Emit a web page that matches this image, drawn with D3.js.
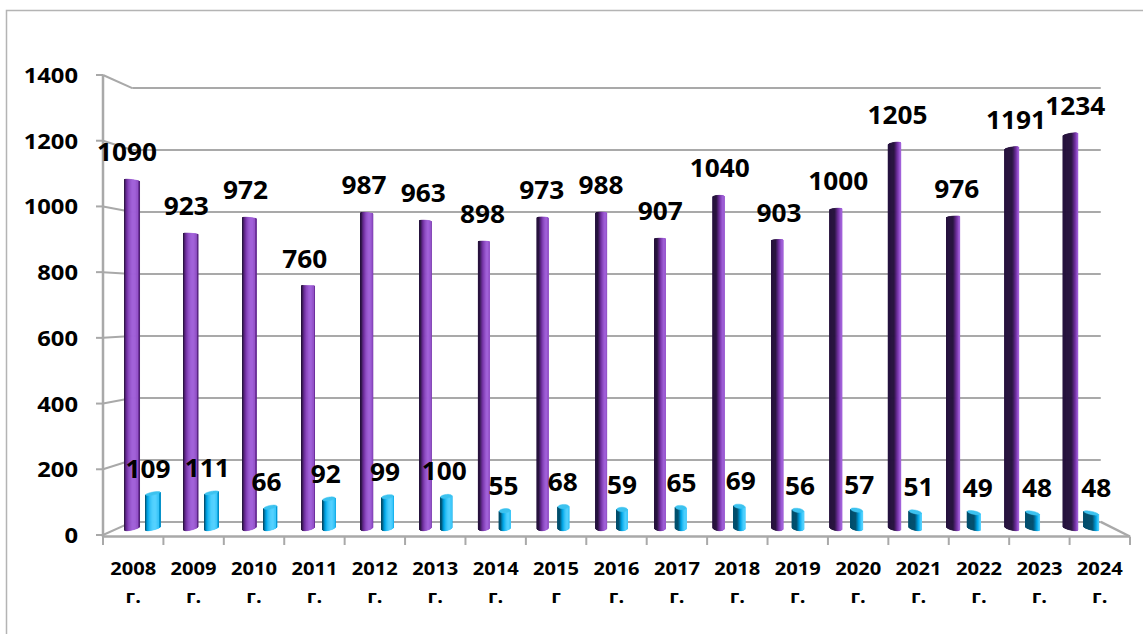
<!DOCTYPE html>
<html>
<head>
<meta charset="utf-8">
<script src="https://cdn.jsdelivr.net/npm/d3@7"></script>
<style>
  html, body { margin: 0; padding: 0; background: #ffffff; }
  svg { display: block; }
  text { font-family: "Open Sans", "Noto Sans", sans-serif; font-weight: 700; fill: #000; }
</style>
</head>
<body>
<script>
// Years on the category axis and the second line under each year
const years = ["2008", "2009", "2010", "2011", "2012", "2013", "2014", "2015", "2016",
               "2017", "2018", "2019", "2020", "2021", "2022", "2023", "2024"];
const yearSuffix = ["г.", "г.", "г.", "г.", "г.", "г.", "г.", "г", "г.",
                    "г.", "г.", "г.", "г.", "г.", "г.", "г.", "г."];

// Two series drawn as cylinders
const seriesPurple = [1090, 923, 972, 760, 987, 963, 898, 973, 988, 907, 1040, 903, 1000, 1205, 976, 1191, 1234];
const seriesBlue   = [109, 111, 66, 92, 99, 100, 55, 68, 59, 65, 69, 56, 57, 51, 49, 48, 48];

// Value axis ticks
const yTicks = [0, 200, 400, 600, 800, 1000, 1200, 1400];

const W = 1143, H = 634;
const svg = d3.select("body").append("svg").attr("width", W).attr("height", H);

// Outer chart frame
svg.append("rect")
  .attr("x", 6.5).attr("y", 10.5).attr("width", 1160).attr("height", 700)
  .attr("fill", "none").attr("stroke", "#b4b4b4").attr("stroke-width", 1.5);

// Front-plane scales
const x0 = d3.scaleBand().domain(years).range([103, 1130]).padding(0);
const bw = x0.bandwidth();
const x1 = d3.scaleBand().domain(["purple", "blue"]).range([bw * 0.063, bw * 0.772]);
const y = d3.scaleLinear().domain([0, 1400]).range([535, 75]);

// Simple perspective: camera centred on the plot, depth measured into the screen
const VX = 616.5, VY = 305, CAM = 500, DEPTH = 30.2;
function proj(X, Y, Z) {
  const s = CAM / (CAM + Z);
  return [VX + (X - VX) * s, VY + (Y - VY) * s];
}

const gridColor = "#a9a9a9";
const gWalls = svg.append("g");

// Back wall gridlines, left wall edges and left ticks
yTicks.forEach(v => {
  const yf = y(v);
  const [bxL, by] = proj(x0.range()[0], yf, DEPTH);
  const [bxR] = proj(x0.range()[1], yf, DEPTH);
  gWalls.append("line").attr("x1", bxL).attr("x2", bxR).attr("y1", by).attr("y2", by)
    .attr("stroke", gridColor).attr("stroke-width", 2);
  gWalls.append("line").attr("x1", 103).attr("y1", yf).attr("x2", bxL).attr("y2", by)
    .attr("stroke", gridColor).attr("stroke-width", 2);
  gWalls.append("line").attr("x1", 96).attr("y1", yf).attr("x2", 103).attr("y2", yf)
    .attr("stroke", gridColor).attr("stroke-width", 2);
  gWalls.append("text")
    .attr("transform", `translate(78,${yf + 8}) scale(1.08,1)`)
    .attr("text-anchor", "end")
    .style("font-size", "22px")
    .text(v);
});

// Front vertical axis line
gWalls.append("line").attr("x1", 103).attr("x2", 103).attr("y1", y(1400)).attr("y2", y(0) + 2)
  .attr("stroke", gridColor).attr("stroke-width", 2.5);

// Floor: right edge and front edge (category axis)
{
  const [rx, ry] = proj(x0.range()[1], y(0), DEPTH);
  gWalls.append("line").attr("x1", rx).attr("y1", ry).attr("x2", 1130).attr("y2", y(0) + 1.5)
    .attr("stroke", gridColor).attr("stroke-width", 2.5);
  gWalls.append("line").attr("x1", 103).attr("x2", 1130).attr("y1", y(0) + 1.5).attr("y2", y(0) + 1.5)
    .attr("stroke", gridColor).attr("stroke-width", 2.5);
  const tickXs = years.map(d => x0(d)).concat([x0.range()[1]]);
  tickXs.forEach(tx => {
    gWalls.append("line").attr("x1", tx).attr("x2", tx).attr("y1", y(0) + 1.5).attr("y2", y(0) + 10)
      .attr("stroke", gridColor).attr("stroke-width", 2);
  });
}

// Category labels
const gX = svg.append("g");
years.forEach((yr, i) => {
  const cx = x0(yr) + bw / 2;
  gX.append("text")
    .attr("transform", `translate(${cx},575) scale(1.15,1)`)
    .attr("text-anchor", "middle").style("font-size", "17.5px").text(yr);
  gX.append("text")
    .attr("transform", `translate(${cx},603) scale(1.15,1)`)
    .attr("text-anchor", "middle").style("font-size", "17.5px").text(yearSuffix[i]);
});

// Cylinder shading
const palettes = {
  purple: { dark: "#2a1540", base: "#7030a0", light: "#a262da", cap: "#8a48c0" },
  blue:   { dark: "#04506f", base: "#00a8ea", light: "#55d2ff", cap: "#3cc2ef" }
};
const L = (() => { const lx = 1, lz = -0.6, n = Math.hypot(lx, lz); return [lx / n, lz / n]; })();

function shade(p, t) {
  const k = 0.55;
  return t < k ? d3.interpolateRgb(p.dark, p.base)(t / k)
               : d3.interpolateRgb(p.base, p.light)((t - k) / (1 - k));
}

const R = 5.5, ZC = DEPTH / 2, N = 72;
const line = d3.line();
const gBars = svg.append("g");

function cylinder(X, v, pal) {
  const yb = y(0), yt = y(v);
  const g = gBars.append("g");
  for (let i = 0; i < N; i++) {
    const a0 = 2 * Math.PI * i / N, a1 = 2 * Math.PI * (i + 1) / N, am = (a0 + a1) / 2;
    const nx = Math.cos(am), nz = Math.sin(am);
    const px = X + R * nx, pz = ZC + R * nz;
    const vis = nx * (VX - px) + nz * (-CAM - pz);
    if (vis <= 0) continue;
    const t = Math.max(0, nx * L[0] + nz * L[1]);
    const c = shade(pal, t);
    const pts = [
      proj(X + R * Math.cos(a0), yb, ZC + R * Math.sin(a0)),
      proj(X + R * Math.cos(a1), yb, ZC + R * Math.sin(a1)),
      proj(X + R * Math.cos(a1), yt, ZC + R * Math.sin(a1)),
      proj(X + R * Math.cos(a0), yt, ZC + R * Math.sin(a0))
    ];
    g.append("path").attr("d", line(pts) + "Z").attr("fill", c).attr("stroke", c).attr("stroke-width", 0.7);
  }
  // Top face is only seen when it lies below eye level
  if (yt > VY) {
    const cap = d3.range(N).map(i => {
      const a = 2 * Math.PI * i / N;
      return proj(X + R * Math.cos(a), yt, ZC + R * Math.sin(a));
    });
    g.append("path").attr("d", line(cap) + "Z").attr("fill", pal.cap).attr("stroke", pal.cap).attr("stroke-width", 0.5);
  }
}

const gLabels = svg.append("g");
function valueLabel(X, v) {
  const [lx, ly] = proj(X, y(v), ZC - R);
  gLabels.append("text")
    .attr("transform", `translate(${lx},${ly - 18}) scale(1.05,1)`)
    .attr("text-anchor", "middle").style("font-size", "25px").text(v);
}

years.forEach((yr, i) => {
  const xp = x0(yr) + x1("purple") + x1.bandwidth() / 2;
  const xb = x0(yr) + x1("blue") + x1.bandwidth() / 2;
  cylinder(xp, seriesPurple[i], palettes.purple);
  cylinder(xb, seriesBlue[i], palettes.blue);
});
years.forEach((yr, i) => {
  const xp = x0(yr) + x1("purple") + x1.bandwidth() / 2;
  const xb = x0(yr) + x1("blue") + x1.bandwidth() / 2;
  valueLabel(xp, seriesPurple[i]);
  valueLabel(xb, seriesBlue[i]);
});
</script>
</body>
</html>
